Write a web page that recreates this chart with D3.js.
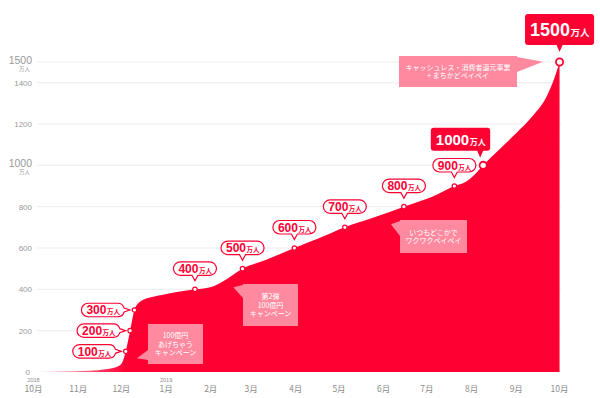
<!DOCTYPE html>
<html>
<head>
<meta charset="utf-8">
<script src="https://cdn.jsdelivr.net/npm/d3@7"></script>
<style>
  html, body { margin: 0; padding: 0; background: #fff; }
  svg { display: block; font-family: "Liberation Sans", Arial, "Noto Sans CJK JP", sans-serif; }
  .jp { font-family: "Noto Sans CJK JP", sans-serif; }
</style>
</head>
<body>
<div id="chart"></div>
<script>
// cumulative registered users (万人)
const dates = ["2018-10-02","2018-10-18","2018-11-08","2018-11-19","2018-11-26","2018-11-30",
  "2018-12-03","2018-12-06","2018-12-09","2018-12-12","2018-12-19","2018-12-28","2019-01-20",
  "2019-02-01","2019-02-08","2019-02-22","2019-03-10","2019-03-30","2019-04-16","2019-05-04",
  "2019-05-26","2019-06-14","2019-07-04","2019-07-19","2019-07-27","2019-08-03","2019-08-08",
  "2019-08-19","2019-08-31","2019-09-11","2019-09-21","2019-09-26","2019-09-30"]
const users = [0,2,6,13,23,40,100,200,300,335,359,373,400,413,437,500,542,600,647,700,
  752,800,849,900,921,962,1000,1075,1156,1236,1333,1414,1500]

const milestoneDates = ["2018-12-03","2018-12-06","2018-12-09","2019-01-20","2019-02-22",
  "2019-03-30","2019-05-04","2019-06-14","2019-07-19","2019-08-08","2019-09-30"]
const milestoneValues = [100,200,300,400,500,600,700,800,900,1000,1500]

const yTicks = [0,200,400,600,800,1000,1200,1400,1500]
const bigTicks = [1000,1500]
const monthDates = ["2018-10-01","2018-11-01","2018-12-01","2019-01-01","2019-02-01","2019-03-01",
  "2019-04-01","2019-05-01","2019-06-01","2019-07-01","2019-08-01","2019-09-01","2019-10-01"]
const monthLabels = ["10月","11月","12月","1月","2月","3月","4月","5月","6月","7月","8月","9月","10月"]
const yearLabels = {"2018-10-01": "2018", "2019-01-01": "2019"}

const noteLines = [
  ["100億円","あげちゃう","キャンペーン"],
  ["第2弾","100億円","キャンペーン"],
  ["いつもどこかで","ワクワクペイペイ"],
  ["キャッシュレス・消費者還元事業","+ まちかどペイペイ"]
]

const RED = "#ff0033"
const width = 600, height = 398
const parse = d3.timeParse("%Y-%m-%d")

const x = d3.scaleTime()
    .domain([parse("2018-10-01"), parse("2019-10-01")])
    .range([35, 561])
const y = d3.scaleLinear().domain([0, 1500]).range([372, 62])

const svg = d3.select("#chart").append("svg")
    .attr("width", width).attr("height", height)

const defs = svg.append("defs")
const grad = defs.append("linearGradient")
    .attr("id", "fade").attr("gradientUnits", "userSpaceOnUse")
    .attr("x1", 35).attr("x2", 125).attr("y1", 0).attr("y2", 0)
grad.append("stop").attr("offset", 0).attr("stop-color", RED).attr("stop-opacity", 0.2)
grad.append("stop").attr("offset", 1).attr("stop-color", RED).attr("stop-opacity", 1)

// grid
svg.append("g").selectAll("line")
    .data(yTicks.filter(d => d > 0))
    .enter().append("line")
        .attr("x1", 37).attr("x2", 561)
        .attr("y1", d => y(d)).attr("y2", d => y(d))
        .attr("stroke", "#ececec").attr("stroke-width", 1)

// y labels
const yl = svg.append("g").attr("fill", "#9a9a9a")
yl.selectAll(".small")
    .data(yTicks.filter(d => !bigTicks.includes(d)))
    .enter().append("text")
        .attr("x", d => d === 0 ? 30 : 32).attr("y", d => y(d) + 3)
        .attr("text-anchor", "end").attr("font-size", 8)
        .text(d => d)
yl.selectAll(".big")
    .data(bigTicks)
    .enter().append("text")
        .attr("x", 32).attr("y", d => y(d) + 2)
        .attr("text-anchor", "end").attr("font-size", 10.5)
        .text(d => d)
yl.selectAll(".unit")
    .data(bigTicks)
    .enter().append("text")
        .attr("class", "jp")
        .attr("x", 30).attr("y", d => y(d) + 9)
        .attr("text-anchor", "end").attr("font-size", 5.5)
        .text("万人")

// x labels
const xl = svg.append("g").attr("fill", "#8c8c8c")
xl.selectAll("text.m")
    .data(monthDates)
    .enter().append("text")
        .attr("class", "jp")
        .attr("x", d => x(parse(d)) - 1.5).attr("y", 391.5)
        .attr("text-anchor", "middle").attr("font-size", 8.5)
        .text((d, i) => monthLabels[i])
xl.selectAll("text.yr")
    .data(monthDates.filter(d => yearLabels[d]))
    .enter().append("text")
        .attr("x", d => x(parse(d)) - 1.5).attr("y", 382)
        .attr("text-anchor", "middle").attr("font-size", 5.5)
        .text(d => yearLabels[d])

// area
const series = dates.map((d, i) => ({date: parse(d), value: users[i]}))
const area = d3.area()
    .x(d => x(d.date))
    .y0(y(0))
    .y1(d => y(d.value))
    .curve(d3.curveMonotoneX)
svg.append("path").datum(series)
    .attr("d", area)
    .attr("fill", "url(#fade)")

// campaign notes
const notes = [
  {box: [148, 324, 55, 40], tail: [[148, 350], [137, 358.3], [148, 360]]},
  {box: [243, 284, 55, 42], tail: [[243, 285], [233.3, 287.3], [243, 298]]},
  {box: [400, 220, 67, 33], tail: [[400, 221], [391, 224.3], [400, 236]]},
  {box: [399, 56, 118, 31], tail: [[517, 57], [543, 61.7], [517, 72]]}
]
const ng = svg.append("g")
notes.forEach((n, i) => {
    const [bx, by, bw, bh] = n.box
    ng.append("path").attr("d", "M" + n.tail.join("L") + "Z").attr("fill", "#ff8aa0")
    ng.append("rect").attr("x", bx).attr("y", by).attr("width", bw).attr("height", bh)
        .attr("fill", "#ff8aa0")
    const lines = noteLines[i]
    const lh = 8.5
    const top = by + bh / 2 - (lines.length - 1) * lh / 2 + 2.5
    lines.forEach((t, j) => {
        ng.append("text").attr("class", "jp")
            .attr("x", bx + bw / 2).attr("y", top + j * lh)
            .attr("text-anchor", "middle").attr("font-size", 7)
            .attr("fill", "#fff")
            .text(t)
    })
})

// milestone callouts
function boxPath(x0, y0, w, h, r, tail) {
    const x1 = x0 + w, y1 = y0 + h
    let p = `M${x0 + r},${y0}H${x1 - r}`
    if (tail.side === "right") {
        // pill end with the tail coming out of its tip
        const cy = (y0 + y1) / 2, hw = 2
        const dx = Math.sqrt(r * r - hw * hw)
        p += `A${r},${r} 0 0 1 ${x1 - r + dx},${cy - hw}L${x1 + tail.len},${cy}L${x1 - r + dx},${cy + hw}`
        p += `A${r},${r} 0 0 1 ${x1 - r},${y1}`
    } else {
        p += `A${r},${r} 0 0 1 ${x1},${y0 + r}V${y1 - r}A${r},${r} 0 0 1 ${x1 - r},${y1}`
    }
    if (tail.side === "down") {
        p += `H${tail.at + 3}L${tail.at},${y1 + tail.len}L${tail.at - 3},${y1}`
    }
    p += `H${x0 + r}A${r},${r} 0 0 1 ${x0},${y1 - r}V${y0 + r}A${r},${r} 0 0 1 ${x0 + r},${y0}Z`
    return p
}

const cg = svg.append("g")
milestoneDates.forEach((d, i) => {
    const v = milestoneValues[i]
    const mx = x(parse(d)), my = y(v)
    const big = v >= 1000
    const g = cg.append("g")
    const shape = g.append("path")
    const label = g.append("text").attr("font-weight", "bold")
        .attr("fill", big ? "#fff" : RED)
    label.append("tspan").attr("font-size", big ? (v === 1500 ? 18 : 15) : 12).text(v)
    label.append("tspan").attr("class", "jp").attr("font-size", big ? (v === 1500 ? 9.5 : 8) : 6.5)
        .attr("dx", 0.5).text("万人")
    const tw = label.node().getComputedTextLength()

    if (big) {
        const w = tw + 10, h = v === 1500 ? 31 : 23
        const x0 = v === 1500 ? mx - w / 2 : mx - w + 7
        const y0 = my - h - (v === 1500 ? 17 : 14.5)
        shape.attr("d", boxPath(x0, y0, w, h, 3, {side: "down", at: v === 1500 ? mx : mx - 3, len: 7}))
            .attr("fill", RED)
        label.attr("x", x0 + 5).attr("y", y0 + h / 2 + (v === 1500 ? 6.5 : 5.5))
    } else if (v <= 300) {
        const w = tw + 10, h = 13.5
        const x0 = mx - 10 - w, y0 = my - h / 2
        shape.attr("d", boxPath(x0, y0, w, h, h / 2, {side: "right", len: 5.5}))
        label.attr("x", x0 + 5).attr("y", y0 + h / 2 + 4.3)
    } else {
        const w = tw + 10, h = 13.5
        const x0 = mx - w / 2, y0 = my - 14 - h
        shape.attr("d", boxPath(x0, y0, w, h, h / 2, {side: "down", at: mx, len: 5.5}))
        label.attr("x", x0 + 5).attr("y", y0 + h / 2 + 4.3)
    }
    if (!big) shape.attr("fill", "#fff").attr("stroke", RED).attr("stroke-width", 1.2)

    g.append("circle").attr("cx", mx).attr("cy", my)
        .attr("r", big ? 3.6 : 2.2)
        .attr("fill", "#fff").attr("stroke", RED)
        .attr("stroke-width", big ? 1.8 : 1.2)
})
</script>
</body>
</html>
